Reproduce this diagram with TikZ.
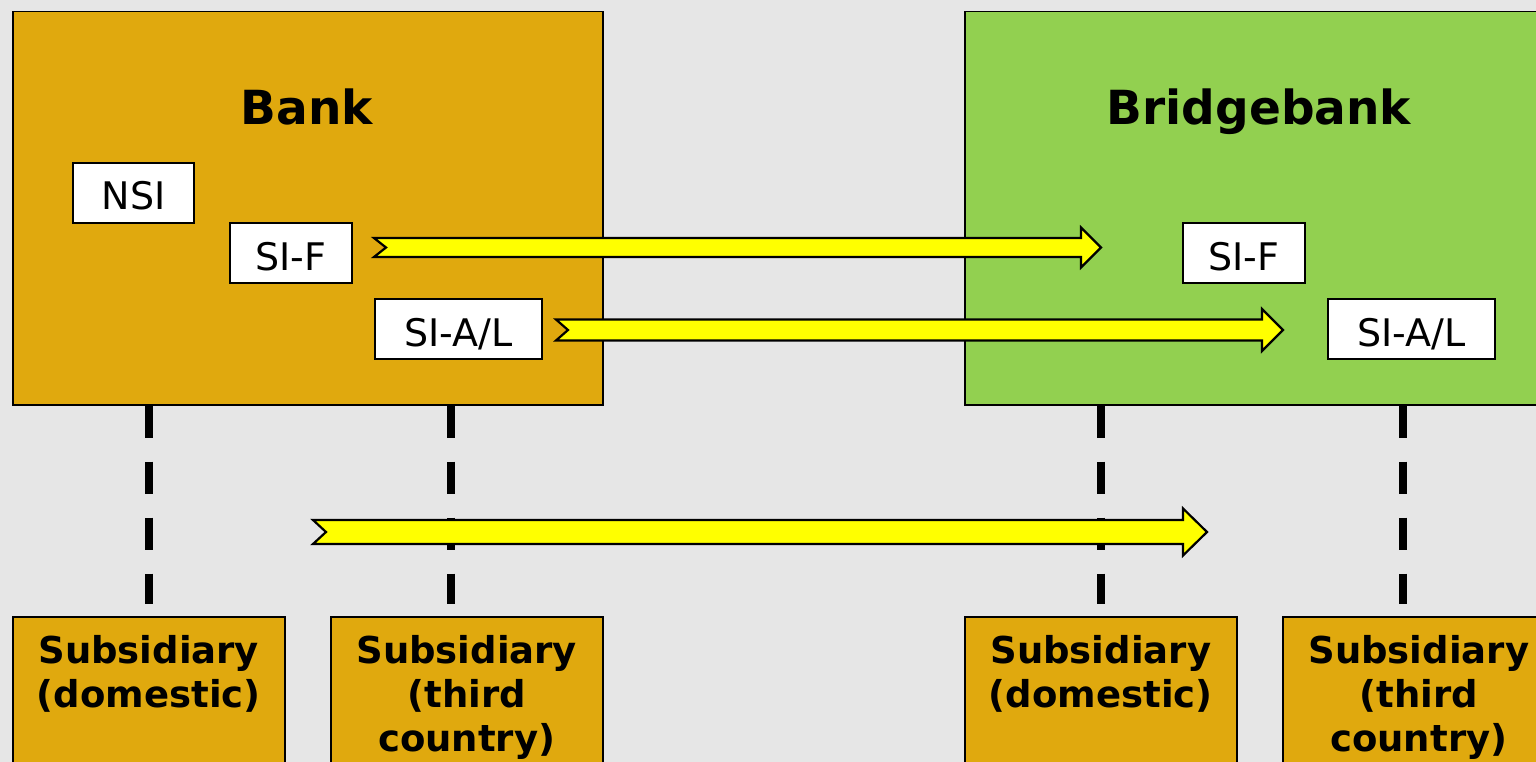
\documentclass[tikz,border=0pt]{standalone}
\usepackage{fontspec}
\setmainfont{DejaVu Sans}
\definecolor{bggray}{RGB}{230,230,230}
\definecolor{bankgold}{RGB}{224,169,14}
\definecolor{bridgegreen}{RGB}{146,208,80}
\definecolor{arrowyellow}{RGB}{255,255,0}
\tikzset{
  bigbox/.style={draw=black, line width=1.5pt, inner sep=0pt, anchor=north west, minimum width=590pt, minimum height=393pt},
  sibox/.style={draw=black, line width=2pt, fill=white, inner sep=0pt, anchor=north west, minimum height=60pt,
     font=\fontsize{38}{46}\selectfont, text height=34pt, text depth=0pt},
  title/.style={font=\fontsize{47}{56}\bfseries\selectfont, anchor=base, inner sep=0pt},
  subbox/.style={draw=black, line width=1.5pt, fill=bankgold, inner sep=0pt, anchor=north west, minimum width=272pt, minimum height=170pt},
  subtext/.style={font=\fontsize{37}{44}\bfseries\selectfont, align=center, anchor=north, inner sep=0pt},
  dashline/.style={line width=8pt, dash pattern=on 32pt off 24pt, line cap=butt},
  arrowshape/.style={draw=black, line width=2.2pt, fill=arrowyellow, line join=miter},
}
\newcommand\fatarrow[6]{\draw[arrowshape] ([shift={(0,-#3)}]#1) -- ([shift={(-#5,-#3)}]#2) -- ([shift={(-#5,-#4)}]#2) -- (#2) -- ([shift={(-#5,#4)}]#2) -- ([shift={(-#5,#3)}]#2) -- ([shift={(0,#3)}]#1) -- ([shift={(#6,0)}]#1) -- cycle;}
\begin{document}
\begin{tikzpicture}[x=1pt,y=-1pt]
\useasboundingbox (0,0) rectangle (1536,762);
\clip (0,0) rectangle (1536,762);
\fill[bggray] (0,0) rectangle (1536,762);
% main boxes
\node[bigbox, fill=bankgold] (bank) at (12,11) {};
\node[bigbox, fill=bridgegreen] (bridge) at (964,11) {};
\node[title] (banktitle) at (307,125) {Bank};
\node[title] (bridgetitle) at (1259,125) {Bridgebank};
% inner boxes
\node[sibox, minimum width=121pt] (nsi) at (72,162) {NSI};
\node[sibox, minimum width=122pt] (sif1) at (229,222) {SI-F};
\node[sibox, minimum width=167pt] (sial1) at (374,298) {SI-A/L};
\node[sibox, minimum width=122pt] (sif2) at (1182,222) {SI-F};
\node[sibox, minimum width=167pt] (sial2) at (1327,298) {SI-A/L};
% subsidiaries
\node[subbox] (sub1) at (12,616) {};
\node[subbox] (sub2) at (330,616) {};
\node[subbox] (sub3) at (964,616) {};
\node[subbox] (sub4) at (1282,616) {};
\node[subtext] (sub1t) at ([yshift=-19pt]sub1.north) {Subsidiary\\(domestic)};
\node[subtext] (sub2t) at ([yshift=-19pt]sub2.north) {Subsidiary\\(third\\country)};
\node[subtext] (sub3t) at ([yshift=-19pt]sub3.north) {Subsidiary\\(domestic)};
\node[subtext] (sub4t) at ([yshift=-19pt]sub4.north) {Subsidiary\\(third\\country)};
% dashed connectors
\draw[dashline] (sub1.north |- bank.south) -- ([yshift=12pt]sub1.north);
\draw[dashline] ([xshift=-16pt]sub2.north |- bank.south) -- ([xshift=-16pt,yshift=12pt]sub2.north);
\draw[dashline] (sub3.north |- bridge.south) -- ([yshift=12pt]sub3.north);
\draw[dashline] ([xshift=-16pt]sub4.north |- bridge.south) -- ([xshift=-16pt,yshift=12pt]sub4.north);
% arrows
\coordinate (a1t) at (374,247.5);
\coordinate (a1h) at (1101,247.5);
\coordinate (a2t) at (556,330);
\coordinate (a2h) at (1283,330);
\coordinate (a3t) at (313,532);
\coordinate (a3h) at (1207,532);
\fatarrow{a1t}{a1h}{9.5}{20}{20}{12}
\fatarrow{a2t}{a2h}{10.5}{21}{21}{12}
\fatarrow{a3t}{a3h}{12}{23.5}{24}{13}
\end{tikzpicture}
\end{document}
